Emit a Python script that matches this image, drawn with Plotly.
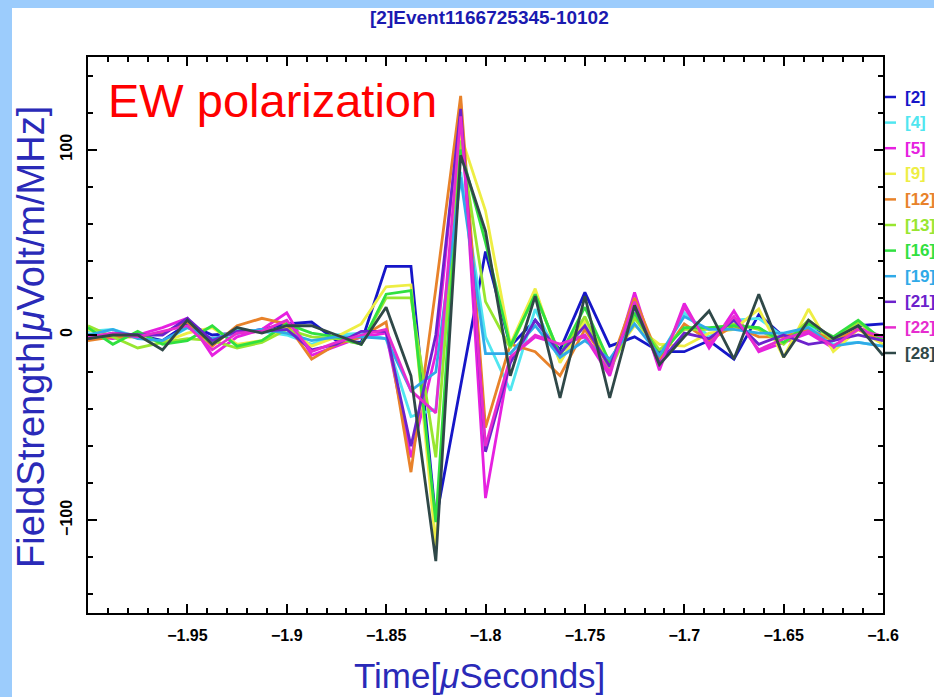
import plotly.graph_objects as go

# Sample times (12.5 ns sampling), microseconds
time_us = [-2.0, -1.9875, -1.975, -1.9625, -1.95, -1.9375, -1.925, -1.9125,
           -1.9, -1.8875, -1.875, -1.8625, -1.85, -1.8375, -1.825, -1.8125,
           -1.8, -1.7875, -1.775, -1.7625, -1.75, -1.7375, -1.725, -1.7125,
           -1.7, -1.6875, -1.675, -1.6625, -1.65, -1.6375, -1.625, -1.6125, -1.6]

# EW-polarized field strength per antenna, µV/m/MHz
ant02 = [0, -1, 0, -3, 6, 0, 1, 3, 6, 7, -3, -4, 37, 37, -100, -27, 45,
         -6, 8, -8, 23, -6, -1, -9, -9, -3, -13, 11, -1, 4, -2, 5, 6]
ant04 = [2, 3, -1, -4, 4, -3, 3, 2, 0, -5, 0, 1, -2, -44, -40, 88, -1,
         -30, 14, -14, 6, -15, 10, -12, 12, -1, 8, 9, -1, 5, -5, -4, -6]
ant05 = [-1, -2, 0, 4, 9, -11, -1, 3, 12, -11, -6, -1, 1, -66, -10, 125, -88,
         -12, -1, -5, -1, -22, 23, -19, 17, -7, 13, -9, -4, 1, -7, 4, -1]
ant09 = [3, -1, -1, -4, 1, 4, -5, -3, 4, -6, -1, 6, 26, 27, -114, 108, 67,
         -5, 25, -15, 8, -14, 5, -5, -6, 1, 3, 14, -12, 14, -9, 3, -5]
ant12 = [-3, -1, -1, 1, 7, -6, 5, 9, 6, -13, -5, -1, 7, -74, 25, 129, -50,
         -5, -9, -22, 3, -17, 20, -13, 6, -3, 5, -1, -1, 3, -3, 3, -3]
ant13 = [5, -1, -7, -4, -2, -3, -7, -4, 3, -1, -2, -5, 20, 20, -66, 105, 18,
         -7, 22, -11, 10, -19, 9, -8, 3, 3, 6, 3, -5, 8, -3, 7, -3]
ant16 = [4, -5, 2, -5, -3, 5, -6, -3, 6, 1, -1, -5, 22, 24, -101, 100, 50,
         -6, 22, -11, 15, -15, 12, -11, 4, 4, 5, 4, -4, 6, -1, 8, -3]
ant19 = [0, 3, -2, -3, 4, -2, 1, 3, 1, -3, -1, -1, -2, -30, -20, 85, -10,
         -10, 5, -12, -3, -13, 6, -11, 10, 3, 3, 1, 1, 4, -6, -4, -6]
ant21 = [-2, 1, 0, 0, 9, -3, 2, 2, 3, -8, -5, 2, 2, -60, 0, 122, -63,
         -15, 8, -10, 5, -17, 15, -15, 1, -2, 8, -5, 0, -5, -3, 0, -3]
ant22 = [-1, 1, -1, 2, 5, -8, 1, 2, 8, -9, -4, 0, 3, -30, -42, 118, -60,
         -12, 0, -5, 0, -20, 18, -17, 15, -5, 10, -8, -2, 2, -6, 3, -1]
ant28 = [-2, 0, 0, -8, 8, -5, 4, 1, 5, 5, 0, -5, 15, -22, -122, 97, 56,
         -22, 21, -34, 21, -34, 16, -16, -1, 13, -13, 22, -12, 8, -2, 5, -11]

antenna_labels = ["[2]", "[4]", "[5]", "[9]", "[12]", "[13]", "[16]",
                  "[19]", "[21]", "[22]", "[28]"]
antenna_colors = ["#1616c8", "#50e6f0", "#e620e0", "#eeee44", "#e8822a",
                  "#98e630", "#30e040", "#30aae8", "#6c22cc", "#e62ccf",
                  "#2f4848"]
antenna_series = [ant02, ant04, ant05, ant09, ant12, ant13, ant16,
                  ant19, ant21, ant22, ant28]

x_tick_vals = [-1.95, -1.9, -1.85, -1.8, -1.75, -1.7, -1.65, -1.6]
x_tick_text = ["\u22121.95", "\u22121.9", "\u22121.85", "\u22121.8",
               "\u22121.75", "\u22121.7", "\u22121.65", "\u22121.6"]
y_tick_vals = [-100, 0, 100]
y_tick_text = ["\u2212100", "0", "100"]

W, H = 934, 697
L, R, T, B = 88, 51, 57, 84
PW, PH = W - L - R, H - T - B


def px(xp):
    return (xp - L) / PW


def py(yp):
    return (H - B - yp) / PH


fig = go.Figure()
for name, color, vals in zip(antenna_labels, antenna_colors, antenna_series):
    fig.add_trace(go.Scatter(x=time_us, y=vals, mode="lines", name=name,
                             line=dict(color=color, width=2.8),
                             showlegend=False))

tick_font = dict(family="Liberation Sans", size=16, color="black", weight="bold")
axis_common = dict(showline=True, linewidth=2, linecolor="black",
                   mirror="allticks", ticks="inside", ticklen=9, tickwidth=2,
                   tickcolor="black", showgrid=False, zeroline=False,
                   tickfont=tick_font)

fig.update_xaxes(range=[-2.0, -1.6], tickmode="array", tickvals=x_tick_vals,
                 ticktext=x_tick_text, ticklabelstandoff=7,
                 minor=dict(tick0=-2.0, dtick=0.01, ticks="inside", ticklen=5,
                            tickwidth=1.5, tickcolor="black"),
                 **axis_common)
fig.update_yaxes(range=[-150, 150], tickmode="array", tickvals=y_tick_vals,
                 ticktext=y_tick_text, tickangle=-90, ticklabelstandoff=8,
                 minor=dict(tick0=0, dtick=20, ticks="inside", ticklen=5,
                            tickwidth=1.5, tickcolor="black"),
                 **axis_common)

annotations = [
    dict(text="[2]Event1166725345-10102", x=px(489), y=py(18), xref="paper",
         yref="paper", showarrow=False, xanchor="center", yanchor="middle",
         font=dict(family="Liberation Sans", size=19, color="#1a1ab0",
                   weight="bold")),
    dict(text="EW polarization", x=px(106), y=py(101), xref="paper",
         yref="paper", showarrow=False, xanchor="left", yanchor="middle",
         font=dict(family="Liberation Sans", size=47, color="#ff0000")),
    dict(text="Time[<i>\u03bc</i>Seconds]", x=px(479), y=py(675), xref="paper",
         yref="paper", showarrow=False, xanchor="center", yanchor="middle",
         font=dict(family="Liberation Sans", size=35, color="#2a2ab8")),
    dict(text="FieldStrength[<i>\u03bc</i>Volt/m/MHz]", x=px(31), y=py(337),
         xref="paper", yref="paper", showarrow=False, textangle=-90,
         xanchor="center", yanchor="middle",
         font=dict(family="Liberation Sans", size=38, color="#2a2ab8")),
]

shapes = [
    # white image area over the light-blue page
    dict(type="rect", xref="paper", yref="paper", x0=px(12), x1=px(W + 5),
         y0=py(H + 5), y1=py(8), fillcolor="white", line=dict(width=0),
         layer="below"),
]

# antenna key at the right edge of the frame
for k, (name, color) in enumerate(zip(antenna_labels, antenna_colors)):
    yk = 97 + 25.6 * k
    shapes.append(dict(type="line", xref="paper", yref="paper",
                       x0=px(885), x1=px(896), y0=py(yk), y1=py(yk),
                       line=dict(color=color, width=2.5)))
    annotations.append(dict(text=name, x=px(903), y=py(yk), xref="paper",
                            yref="paper", showarrow=False, xanchor="left",
                            yanchor="middle",
                            font=dict(family="Liberation Sans", size=17,
                                      color=color, weight="bold")))

fig.update_layout(width=W, height=H, margin=dict(l=L, r=R, t=T, b=B),
                  paper_bgcolor="#9cccfc", plot_bgcolor="white",
                  showlegend=False, annotations=annotations, shapes=shapes)

fig.write_html("out.html")
